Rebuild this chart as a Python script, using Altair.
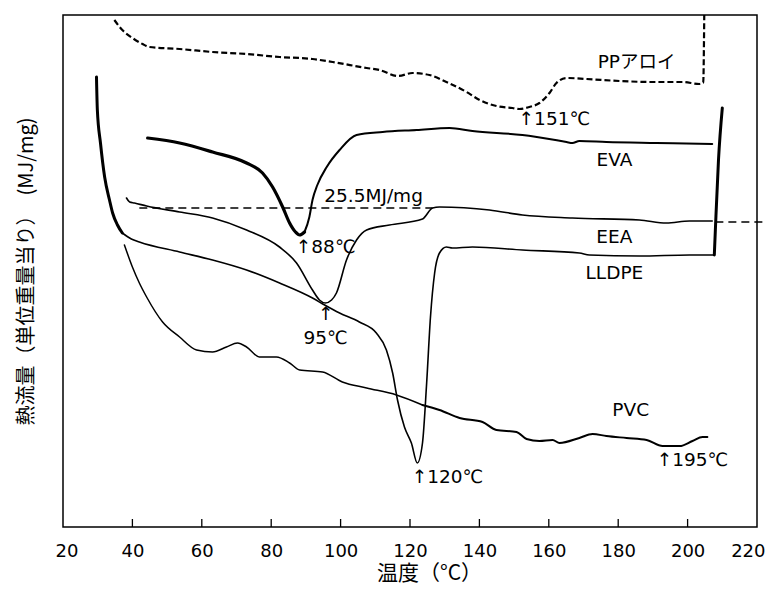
import altair as alt
import pandas as pd

# ---- data (T in degC, y = heat flow, arbitrary units) ----
PP_T = [34.8, 37.1, 40.0, 42.9, 44.9, 53.6, 63.1, 72.9, 82.4, 91.9, 97.7, 107.5, 111.2, 116.5, 120.7,
        125.6, 130.5, 136.3, 140.1, 144.9, 149.5, 151.5, 154.4, 157.3, 160.2, 162.2, 165.1, 170.9,
        180.4, 189.9, 198.5, 203.4, 204.5, 204.8]
PP_Y = [507, 497, 489, 483, 480, 478, 475, 473, 470, 468, 465, 459, 457, 451, 454,
        452, 445, 435, 427, 421, 419, 418, 420, 424, 434, 444, 449, 448,
        446, 445, 445, 443, 444, 512]

EVA_T = [44.4, 53.6, 63.1, 72.9, 77.5, 80.4, 83.3, 85.3, 87.0, 88.2, 89.6, 91.0, 91.9, 93.3, 96.0,
         99.7, 104.6, 112.1, 121.9, 131.4, 138.0, 152.4, 165.1, 166.8, 168.8, 176.6, 191.0, 207.1]
EVA_Y = [389, 384, 375, 364, 354, 340, 320, 304, 295, 292, 295, 310, 327, 342, 360,
         377, 392, 395, 397, 399, 396, 392, 385, 384, 386, 385, 384, 383]

EEA_T = [38.3, 39.2, 40.6, 44.1, 53.6, 63.1, 72.9, 82.4, 87.3, 91.9, 93.9, 95.6, 97.4, 98.8,
         101.7, 104.6, 107.5, 114.1, 123.6, 126.5, 128.5, 142.9, 152.4, 166.8, 186.1, 193.9, 200.5, 207.1]
EEA_Y = [329, 325, 324, 321, 315, 309, 297, 280, 264, 237, 227, 224, 227, 234,
         267, 287, 297, 302, 308, 319, 320, 317, 312, 309, 307, 304, 306, 306]

LLDPE_T = [29.65, 29.9, 30.8, 32.0, 33.4, 34.3, 35.7, 37.1, 39.7, 42.0, 53.6, 63.1, 72.9, 82.4,
           91.9, 95.4, 99.7, 105.4, 110.3, 113.2, 115.0, 116.4, 118.4, 120.4, 122.1, 123.6, 124.8,
           125.9, 127.1, 128.5, 130.5, 132.2, 138.0, 152.4, 168.8, 171.7, 186.1, 200.5, 207.7,
           208.0, 208.9, 210.0]
LLDPE_Y = [450, 417, 384, 350, 327, 314, 302, 294, 288, 285, 275, 267, 257, 244,
           229, 222, 214, 205, 194, 177, 154, 127, 100, 84, 64, 84, 144,
           210, 254, 274, 280, 279, 280, 277, 274, 272, 271, 272, 272,
           297, 367, 419]

PVC_T = [37.7, 40.0, 42.0, 44.1, 48.7, 53.6, 58.5, 63.1, 67.1, 70.3, 72.9, 76.6, 81.5, 85.3, 88.2,
         94.8, 100.5, 107.5, 116.1, 123.6, 128.5, 134.3, 140.9, 144.9, 150.7, 153.6, 157.3, 161.1,
         163.1, 168.8, 172.6, 176.6, 182.4, 188.2, 192.8, 197.7, 201.4, 204.3, 205.7]
PVC_Y = [282, 260, 244, 230, 205, 190, 177, 175, 180, 184, 180, 170, 170, 164, 157,
         155, 145, 139, 132, 122, 117, 109, 105, 97, 95, 88, 86, 87,
         84, 89, 93, 91, 89, 87, 81, 81, 86, 90, 90]

# 25.5 MJ/mg reference baseline (two dashed pieces)
BASE_SEG = ["a", "a", "b", "b"]
BASE_T = [42.0, 126.5, 208.0, 224.0]
BASE_Y = [319, 319, 305, 305]

TICKS = [40, 60, 80, 100, 120, 140, 160, 180, 200]

LABELS_C = ["PPアロイ", "EVA", "EEA", "LLDPE", "25.5MJ/mg", "95℃", "PVC", "↑"]
LABELS_C_T = [185.3, 178.9, 178.9, 178.9, 109.5, 95.7, 183.6, 95.7]
LABELS_C_Y = [465, 367, 290, 254, 331, 189, 117, 213]

LABELS_L = ["↑151℃", "↑88℃", "↑120℃", "↑195℃"]
LABELS_L_T = [151.3, 87.1, 120.5, 191.1]
LABELS_L_Y = [408, 280, 50, 67]

# ---- build tables ----
def rows(name, T, Y, segs):
    out = []
    for k, (a, b, w) in enumerate(segs):
        for i in range(a, b + 1):
            out.append(dict(series=name, seg=f"{name}{k}", T=T[i], y=Y[i], w=w, i=i))
    return out

solid = []
solid += rows("EVA", EVA_T, EVA_Y, [(0, 10, 3.2), (10, len(EVA_T) - 1, 2.0)])
solid += rows("EEA", EEA_T, EEA_Y, [(0, len(EEA_T) - 1, 1.6)])
solid += rows("LLDPE", LLDPE_T, LLDPE_Y, [(0, 7, 3.0), (7, 38, 1.6), (38, len(LLDPE_T) - 1, 3.0)])
solid += rows("PVC", PVC_T, PVC_Y, [(0, 19, 1.5), (19, len(PVC_T) - 1, 2.0)])
solid_df = pd.DataFrame(solid)

pp_df = pd.DataFrame({"T": PP_T, "y": PP_Y, "i": list(range(len(PP_T)))})
base_df = pd.DataFrame({"seg": BASE_SEG, "T": BASE_T, "y": BASE_Y})
tick_df = pd.DataFrame({"T": TICKS, "y0": [0] * len(TICKS), "y1": [8] * len(TICKS)})
lab_c = pd.DataFrame({"label": LABELS_C, "T": LABELS_C_T, "y": LABELS_C_Y})
lab_l = pd.DataFrame({"label": LABELS_L, "T": LABELS_L_T, "y": LABELS_L_Y})

xscale = alt.Scale(domain=[20, 220], nice=False, zero=False)
yscale = alt.Scale(domain=[0, 512], nice=False, zero=False)

xaxis = alt.Axis(values=list(range(20, 221, 20)), title="温度（°C）", labelFont="DejaVu Sans",
                 labelFontSize=18, labelColor="black", labelPadding=15, ticks=False, domain=False,
                 grid=False, labelFlush=True, labelFlushOffset=8,
                 titleFont="Noto Sans CJK JP", titleFontSize=21,
                 titleFontWeight="normal", titleColor="black",
                 titleX=366, titleY=46, titleAlign="center", titleBaseline="middle")
yaxis = alt.Axis(title="熱流量（単位重量当り）　(MJ/mg)", labels=False, ticks=False, domain=False,
                 grid=False, titleFont="Noto Sans CJK JP", titleFontSize=20,
                 titleFontWeight="normal", titleColor="black", titlePadding=27)

X = alt.X("T:Q", scale=xscale, axis=xaxis)
Y = alt.Y("y:Q", scale=yscale, axis=yaxis)

solid_layer = alt.Chart(solid_df).mark_line(color="black", strokeJoin="round", strokeCap="round",
                                            interpolate="monotone").encode(
    x=X, y=Y, detail="seg:N", order="i:Q",
    strokeWidth=alt.StrokeWidth("w:Q", scale=None))

pp_layer = alt.Chart(pp_df).mark_line(color="black", strokeWidth=2.2, strokeDash=[6, 3],
                                      interpolate="monotone").encode(
    x=X, y=Y, order="i:Q")

base_layer = alt.Chart(base_df).mark_line(color="black", strokeWidth=1.5, strokeDash=[8, 5]).encode(
    x=X, y=Y, detail="seg:N")

tick_layer = alt.Chart(tick_df).mark_rule(color="black", strokeWidth=1.3).encode(
    x=X, y=alt.Y("y0:Q", scale=yscale, axis=yaxis), y2="y1:Q")

text_c = alt.Chart(lab_c).mark_text(font="DejaVu Sans, Noto Sans CJK JP", fontSize=18.5, color="black",
                                    align="center", baseline="middle").encode(x=X, y=Y, text="label:N")
text_l = alt.Chart(lab_l).mark_text(font="DejaVu Sans, Noto Sans CJK JP", fontSize=18.5, color="black",
                                    align="left", baseline="middle").encode(x=X, y=Y, text="label:N")

chart = alt.layer(solid_layer, pp_layer, base_layer, tick_layer, text_c, text_l).properties(
    width=694, height=512,
    autosize=alt.AutoSizeParams(type="none"),
    padding={"left": 55, "top": 7, "right": 9, "bottom": 60},
    background="white",
).configure_view(stroke="black", strokeWidth=1.5)

chart.save("out.html", embed_options={"renderer": "svg", "actions": False})
